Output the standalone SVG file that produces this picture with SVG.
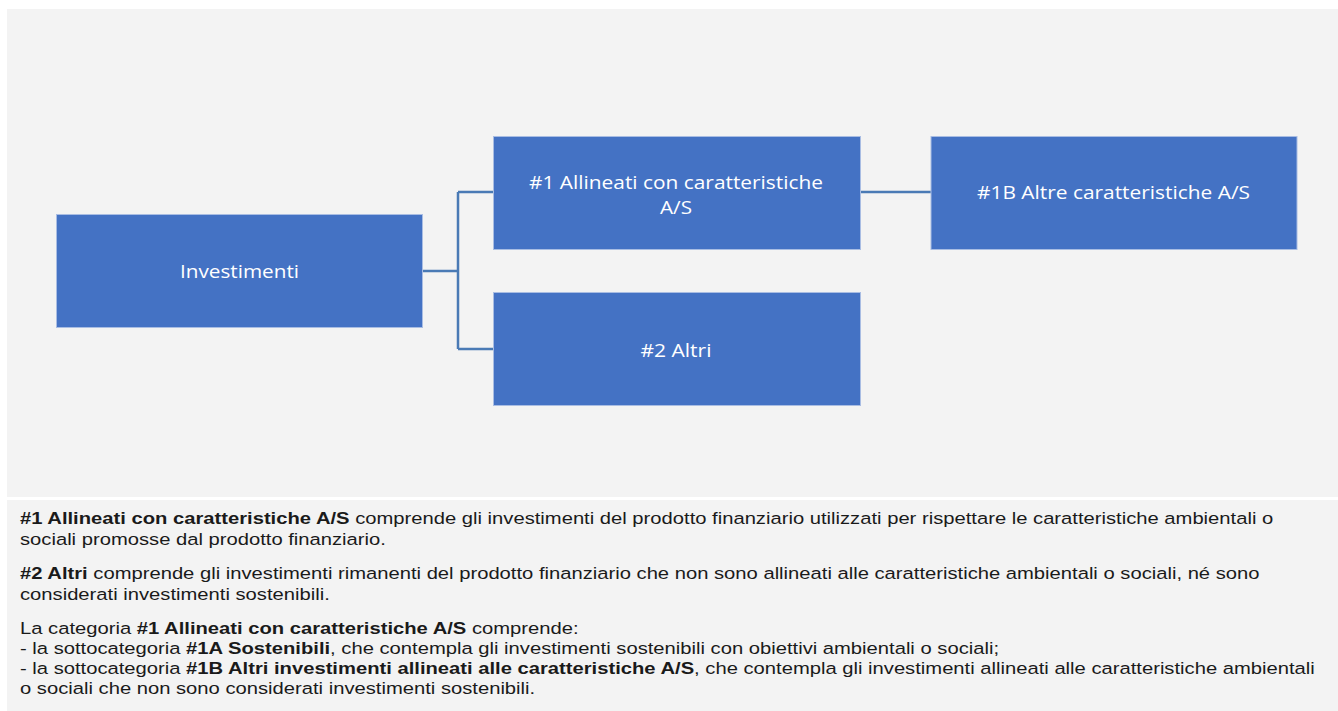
<svg xmlns="http://www.w3.org/2000/svg" width="1338" height="711" viewBox="0 0 1338 711">
<style>
.panel{fill:#f3f3f3}
.node rect{fill:#4472c4;stroke:#a9bde3;stroke-width:1}
.node text{fill:#ffffff;font-family:"Open Sans","Noto Sans",sans-serif;font-size:18px;text-anchor:middle}
.conn{fill:none;stroke:#4a7ab5;stroke-width:2.5}
.note{font-family:"Liberation Sans",Arial,sans-serif;font-size:17px;fill:#1a1a1a}
.b{font-weight:bold}
</style>
<rect width="1338" height="711" fill="#ffffff"/>
<rect class="panel" x="7" y="9" width="1331" height="488"/>
<rect class="panel" x="7" y="500" width="1331" height="211"/>
<g id="connectors">
<path class="conn" d="M423 271 H458 M458 192 V349 M458 192 H493 M458 349 H493"/>
<path class="conn" d="M860 192 H931"/>
</g>
<g id="node-investimenti" class="node">
<rect x="56.5" y="214.5" width="366" height="113"/>
<text x="239.5" y="277.5" textLength="119" lengthAdjust="spacingAndGlyphs">Investimenti</text>
</g>
<g id="node-1" class="node">
<rect x="493.5" y="136.5" width="367" height="113"/>
<text x="676" y="188.5" textLength="294" lengthAdjust="spacingAndGlyphs">#1 Allineati con caratteristiche</text>
<text x="676" y="213.5" textLength="32" lengthAdjust="spacingAndGlyphs">A/S</text>
</g>
<g id="node-1b" class="node">
<rect x="931" y="136.5" width="366" height="113"/>
<text x="1113.5" y="198.5" textLength="273" lengthAdjust="spacingAndGlyphs">#1B Altre caratteristiche A/S</text>
</g>
<g id="node-2" class="node">
<rect x="493.5" y="292.5" width="367" height="113"/>
<text x="676" y="356.5" textLength="71" lengthAdjust="spacingAndGlyphs">#2 Altri</text>
</g>
<g id="notes" class="note" transform="translate(20 0) scale(1.189 1)">
<text x="0" y="524"><tspan class="b">#1 Allineati con caratteristiche A/S</tspan> comprende gli investimenti del prodotto finanziario utilizzati per rispettare le caratteristiche ambientali o</text>
<text x="0" y="545">sociali promosse dal prodotto finanziario.</text>
<text x="0" y="579"><tspan class="b">#2 Altri</tspan> comprende gli investimenti rimanenti del prodotto finanziario che non sono allineati alle caratteristiche ambientali o sociali, né sono</text>
<text x="0" y="600">considerati investimenti sostenibili.</text>
<text x="0" y="634">La categoria <tspan class="b">#1 Allineati con caratteristiche A/S</tspan> comprende:</text>
<text x="0" y="654">- la sottocategoria <tspan class="b">#1A Sostenibili</tspan>, che contempla gli investimenti sostenibili con obiettivi ambientali o sociali;</text>
<text x="0" y="674">- la sottocategoria <tspan class="b">#1B Altri investimenti allineati alle caratteristiche A/S</tspan>, che contempla gli investimenti allineati alle caratteristiche ambientali</text>
<text x="0" y="694">o sociali che non sono considerati investimenti sostenibili.</text>
</g>
</svg>
